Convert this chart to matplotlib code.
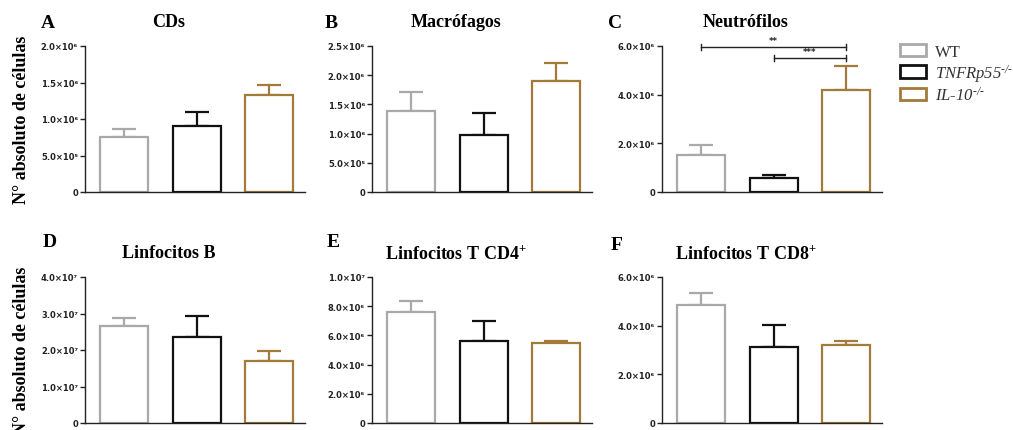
import numpy as np
import matplotlib
matplotlib.use("Agg")
import matplotlib.pyplot as plt
from matplotlib.patches import Patch
from matplotlib.ticker import FuncFormatter

plt.rcParams['mathtext.fontset'] = 'custom'
plt.rcParams['mathtext.rm'] = 'Liberation Serif:italic'
plt.rcParams['mathtext.it'] = 'Liberation Serif:italic'
plt.rcParams['mathtext.bf'] = 'Liberation Serif:bold'

# data
groups = ['WT', 'TNFRp55-/-', 'IL-10-/-']
colors = ['#a9a9a9', '#111111', '#a27a3a']

titles = ['CDs', 'Macrófagos', 'Neutrófilos',
          'Linfocitos B', r'Linfocitos T CD4$^{\mathbf{+}}$', r'Linfocitos T CD8$^{\mathbf{+}}$']
letters = ['A', 'B', 'C', 'D', 'E', 'F']

cds_mean = [0.75e6, 0.90e6, 1.33e6]
cds_sem = [0.11e6, 0.20e6, 0.14e6]
macro_mean = [1.38e6, 0.98e6, 1.90e6]
macro_sem = [0.33e6, 0.38e6, 0.31e6]
neutro_mean = [1.51e6, 0.58e6, 4.20e6]
neutro_sem = [0.41e6, 0.10e6, 0.96e6]
linfb_mean = [2.65e7, 2.35e7, 1.71e7]
linfb_sem = [0.24e7, 0.59e7, 0.25e7]
cd4_mean = [7.57e6, 5.59e6, 5.50e6]
cd4_sem = [0.79e6, 1.41e6, 0.11e6]
cd8_mean = [4.84e6, 3.12e6, 3.20e6]
cd8_sem = [0.51e6, 0.89e6, 0.16e6]

means = [cds_mean, macro_mean, neutro_mean, linfb_mean, cd4_mean, cd8_mean]
sems = [cds_sem, macro_sem, neutro_sem, linfb_sem, cd4_sem, cd8_sem]
ymax = [2.0e6, 2.5e6, 6.0e6, 4.0e7, 1.0e7, 6.0e6]
ystep = [5e5, 5e5, 2e6, 1e7, 2e6, 2e6]

# significance in panel C: (from, to, level, label)
sig_pairs = [(0, 2, 5.97e6, '**'), (1, 2, 5.5e6, '***')]

SUP = str.maketrans('0123456789-', '⁰¹²³⁴⁵⁶⁷⁸⁹⁻')


def sci(v, pos):
    if v == 0:
        return '0'
    e = int(np.floor(np.log10(v) + 1e-9))
    m = v / 10 ** e
    return f'{m:.1f}×10' + str(e).translate(SUP)


W, H = 1013, 431
fig = plt.figure(figsize=(W / 100, H / 100), dpi=100)

col_left = [85, 372, 662]
row_top = [47, 278]
ax_w, ax_h = 220, 146
letter_x = [48, 331, 615, 50, 333, 617]
letter_y = [23, 23, 23, 243, 243, 246]

x = np.arange(3)
for i in range(6):
    r, c = divmod(i, 3)
    l = col_left[c] / W
    b = 1 - (row_top[r] + ax_h) / H
    ax = fig.add_axes([l, b, ax_w / W, ax_h / H])
    for j in range(3):
        ax.errorbar(x[j], means[i][j], yerr=[[0], [sems[i][j]]], color=colors[j],
                    lw=1.6, capsize=8.5, capthick=1.6, zorder=1)
        ax.bar(x[j], means[i][j], width=0.66, facecolor='white', edgecolor=colors[j],
               linewidth=1.6, zorder=2)
    ax.set_xlim(-0.534, 2.49)
    ax.set_ylim(0, ymax[i])
    ax.set_yticks(np.arange(0, ymax[i] + ystep[i] / 2, ystep[i]))
    ax.yaxis.set_major_formatter(FuncFormatter(sci))
    ax.set_xticks([])
    for s in ['top', 'right']:
        ax.spines[s].set_visible(False)
    for s in ['left', 'bottom']:
        ax.spines[s].set_linewidth(1.0)
        ax.spines[s].set_color('#222222')
    ax.tick_params(axis='y', length=3.5, width=1.0, pad=1.5, color='#222222')
    for t in ax.get_yticklabels():
        t.set_fontfamily('DejaVu Sans')
        t.set_fontweight('bold')
        t.set_fontsize(6)
        t.set_color('#222222')
    ax.text(0.38, 1 + 24 / ax_h, titles[i], transform=ax.transAxes, ha='center',
            va='center', fontfamily='Liberation Serif', fontweight='bold', fontsize=13)
    fig.text(letter_x[i] / W, 1 - letter_y[i] / H, letters[i], ha='center', va='center',
             fontfamily='Liberation Serif', fontweight='bold', fontsize=14)

    if i == 2:
        for a, bb, lev, lab in sig_pairs:
            ax.plot([x[a], x[bb]], [lev, lev], color='#222222', lw=1.0, clip_on=False)
            for xx in (x[a], x[bb]):
                ax.plot([xx, xx], [lev - 0.12e6, lev + 0.12e6], color='#222222',
                        lw=1.0, clip_on=False)
            ax.text((x[a] + x[bb]) / 2, lev + 0.08e6, lab,
                    ha='center', va='bottom', fontsize=6, fontweight='bold',
                    fontfamily='DejaVu Sans', color='#222222')

for yc in (120, 351):
    fig.text(22 / W, 1 - yc / H, 'N° absoluto de células', rotation=90, ha='center',
             va='center', fontfamily='Liberation Serif', fontweight='bold', fontsize=13)

labels = ['WT', r'TNFRp55$^{\text{-/-}}$', r'IL-10$^{\text{-/-}}$']
handles = [Patch(facecolor='white', edgecolor=colors[k], linewidth=2.0) for k in range(3)]
leg = fig.legend(handles, labels, loc='upper left', bbox_to_anchor=(893 / W, 1 - 38 / H),
                 frameon=False, handlelength=1.6, handleheight=0.75, handletextpad=0.5,
                 labelspacing=0.12, borderaxespad=0,
                 prop={'family': 'Liberation Serif', 'style': 'italic', 'size': 12})
leg.get_texts()[0].set_fontstyle('normal')
for t in leg.get_texts():
    t.set_color('#333333')

fig.savefig('out.png', dpi=100)
